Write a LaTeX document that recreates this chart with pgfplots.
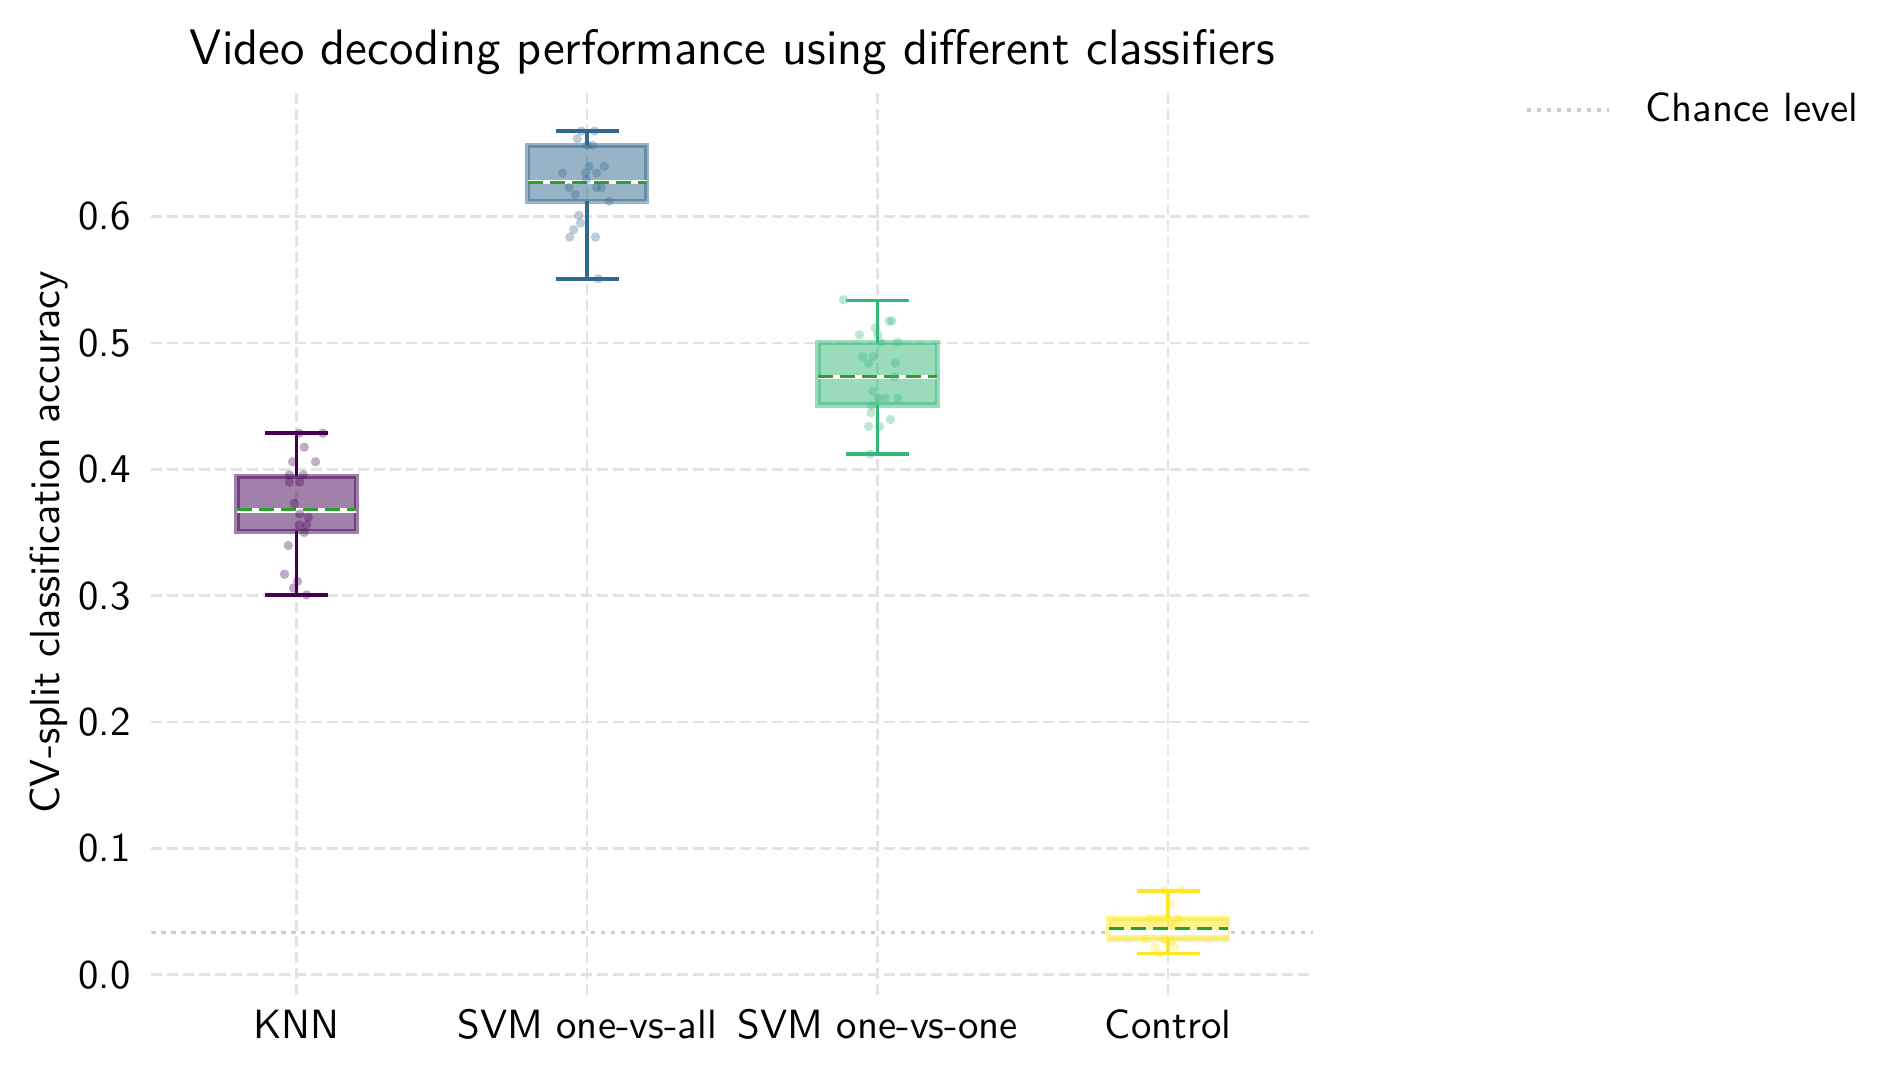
\documentclass[border=0pt]{standalone}
\usepackage{fontspec}
\renewcommand\familydefault{\sfdefault}
\usepackage{pgfplots}
\pgfplotsset{compat=1.18}
\usepgfplotslibrary{statistics}
\definecolor{vknn}{HTML}{440154}
\definecolor{vall}{HTML}{31688E}
\definecolor{vone}{HTML}{35B779}
\definecolor{vctl}{HTML}{FDE725}
\definecolor{meangreen}{HTML}{2CA02C}
\definecolor{gridc}{HTML}{E3E3E3}
\definecolor{chancec}{HTML}{CCCCCC}
\pgfplotsset{
  mybox/.style={
    draw=#1, line width=0.85pt, solid,
    boxplot/draw direction=y,
    boxplot/box extend=0.41, boxplot/whisker extend=0.216,
    boxplot/every box/.style={fill=#1, fill opacity=0.5, draw opacity=0.5, line width=1.3pt},
    boxplot/every whisker/.style={line width=0.85pt},
    boxplot/every median/.style={draw=white, line width=1pt},
    boxplot/draw/average/.code={\draw[meangreen, line width=0.82pt, dash pattern=on 3.75pt off 1.64pt] (boxplot box cs:\pgfplotsboxplotvalue{average},0) -- (boxplot box cs:\pgfplotsboxplotvalue{average},1);},
  },
  mypts/.style={only marks, mark=*, mark size=1.15pt, color=#1, mark options={solid, fill=#1, draw opacity=0, fill opacity=0.33}, forget plot},
}
\begin{document}
\begin{tikzpicture}
\path[use as bounding box] (0,0) rectangle (466.5pt,263.9pt);
\begin{axis}[
  at={(37.1pt,20.1pt)}, anchor=south west,
  scale only axis, width=284.7pt, height=221.7pt,
  xmin=-0.5, xmax=3.5, ymin=-0.016, ymax=0.700,
  xtick={0,1,2,3},
  xticklabels={KNN, SVM one-vs-all, SVM one-vs-one, Control},
  ytick={0,0.1,0.2,0.3,0.4,0.5,0.6},
  yticklabel style={/pgf/number format/fixed, /pgf/number format/fixed zerofill, /pgf/number format/precision=1, anchor=east, xshift=-1.6pt},
  /pgf/number format/assume math mode=true,
  xmajorgrids, ymajorgrids,
  grid style={draw=gridc, line width=0.65pt, dash pattern=on 2.7pt off 1.2pt},
  axis line style={draw=none},
  major tick length=0pt,
  tick label style={font=\fontsize{10}{12}\selectfont},
  xticklabel style={anchor=base, yshift=-10.7pt},
  ylabel={CV-split classification accuracy},
  ylabel style={at={(axis description cs:-0.0885,0.5)}, anchor=center, font=\fontsize{10.3}{12}\selectfont},
  title={Video decoding performance using different classifiers},
  title style={at={(0.5,1)}, anchor=base, yshift=0.2pt, font=\fontsize{12.2}{14}\selectfont},
  legend style={at={(1.182,0.978)}, anchor=west, draw=none, fill=none, inner sep=0pt,
    font=\fontsize{10}{12}\selectfont, nodes={inner sep=0pt}, column sep=8.6pt},
  legend image code/.code={\draw[#1] (0pt,0pt) -- (20pt,0pt);},
]
\addplot[chancec, line width=0.8pt, dash pattern=on 1pt off 1.45pt] coordinates {(-0.5,0.0333) (3.5,0.0333)};
\addlegendentry{Chance level}

\addplot[mybox=vknn, forget plot, boxplot prepared={draw position=0, lower whisker=0.3006, lower quartile=0.351, median=0.3674, upper quartile=0.3945, upper whisker=0.4286, average=0.3684}] coordinates {};
\addplot[mybox=vall, forget plot, boxplot prepared={draw position=1, lower whisker=0.5505, lower quartile=0.612, median=0.6273, upper quartile=0.6564, upper whisker=0.6677, average=0.6268}] coordinates {};
\addplot[mybox=vone, forget plot, boxplot prepared={draw position=2, lower whisker=0.412, lower quartile=0.451, median=0.4731, upper quartile=0.5001, upper whisker=0.5337, average=0.4737}] coordinates {};
\addplot[mybox=vctl, forget plot, boxplot prepared={draw position=3, lower whisker=0.0169, lower quartile=0.0277, median=0.0335, upper quartile=0.0446, upper whisker=0.0665, average=0.0367}] coordinates {};

\addplot[mypts=vknn] coordinates {
(0.009,0.4286) (0.090,0.4286) (0.026,0.4175) (-0.014,0.406) (0.065,0.406)
(-0.025,0.3956) (0.023,0.3956) (-0.025,0.3898) (0.011,0.3898) (-0.008,0.373)
(0.011,0.3647) (0.040,0.362) (0.034,0.356) (0.009,0.356) (0.026,0.350)
(-0.029,0.3397) (-0.042,0.317) (0.003,0.3114) (-0.011,0.306) (0.034,0.3006)
};
\addplot[mypts=vall] coordinates {
(0.980,0.6677) (1.026,0.6677) (0.966,0.6616) (1.000,0.6564) (1.018,0.6564)
(1.007,0.6397) (1.059,0.6397) (0.915,0.6344) (0.995,0.6344) (1.032,0.6344)
(0.998,0.6292) (0.938,0.6229) (1.032,0.6229) (1.049,0.6229) (0.959,0.6173)
(1.076,0.612) (0.971,0.601) (0.977,0.5949) (0.954,0.5896) (0.940,0.5838)
(1.029,0.5838) (1.038,0.5508)
};
\addplot[mypts=vone] coordinates {
(1.882,0.5342) (2.040,0.5173) (2.049,0.5173) (1.992,0.5118) (1.937,0.5065)
(2.000,0.5065) (2.009,0.5007) (2.069,0.5007) (1.948,0.4893) (1.985,0.4893)
(1.969,0.484) (2.061,0.484) (2.057,0.4731) (1.983,0.4618) (2.002,0.4563)
(2.026,0.4563) (2.069,0.4563) (1.980,0.4505) (1.977,0.4447) (2.044,0.4394)
(1.969,0.4339) (2.006,0.4339) (1.974,0.412)
};
\addplot[mypts=vctl] coordinates {
(2.989,0.0671) (3.046,0.0671) (3.006,0.056) (2.937,0.0446) (2.962,0.0446)
(2.985,0.0446) (3.034,0.0446) (3.015,0.0401) (2.923,0.0283) (2.983,0.0283)
(2.994,0.0269) (3.011,0.0269) (2.954,0.0222) (3.023,0.0222) (2.969,0.0169)
};
\end{axis}
\end{tikzpicture}
\end{document}
